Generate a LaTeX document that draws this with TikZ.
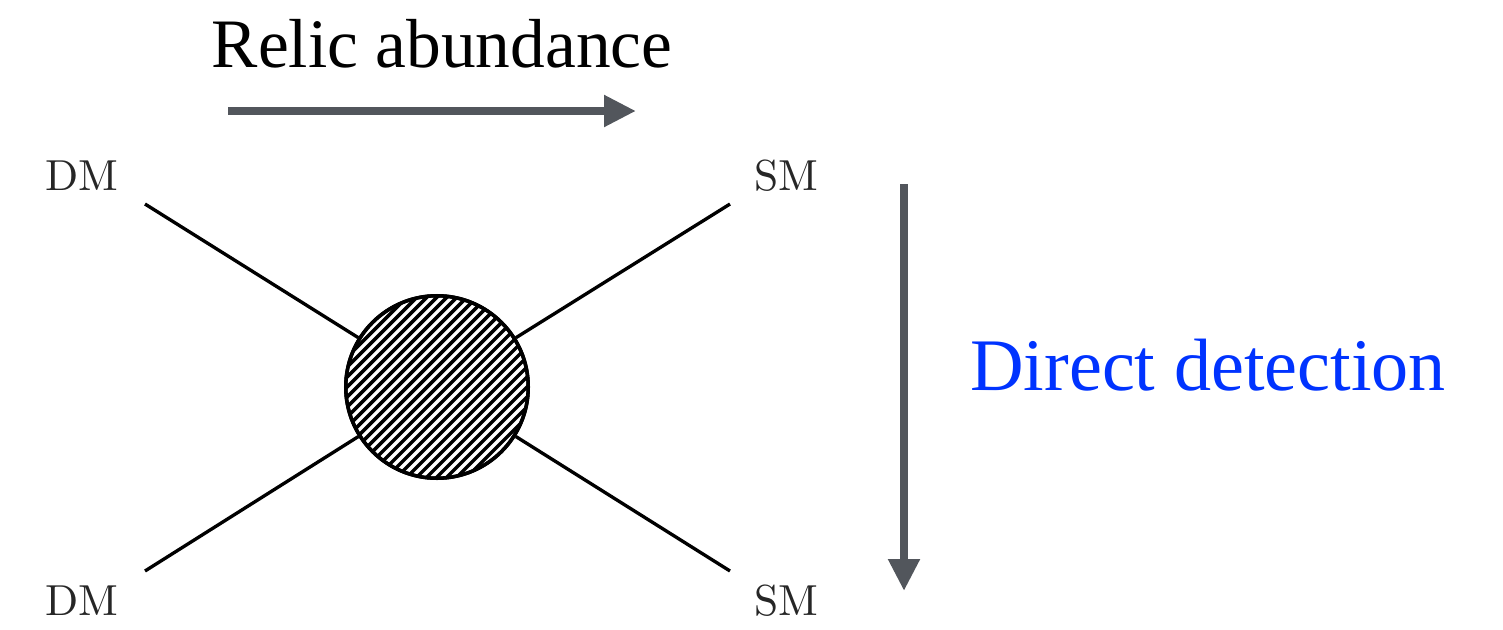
\documentclass[tikz,border=0pt]{standalone}
\usepackage{fontspec}
\newfontfamily\timesfont{Liberation Serif}
\newfontfamily\lmten{lmroman10-regular.otf}
\usetikzlibrary{arrows.meta}

\definecolor{arrowgray}{HTML}{52565C}
\definecolor{ddblue}{HTML}{0033FF}
\definecolor{labelgray}{HTML}{262626}

\begin{document}
\begin{tikzpicture}[
  x=0.02cm, y=-0.02cm,
  particle/.style={text=labelgray, font=\lmten\fontsize{24.7}{29}\selectfont, anchor=base, inner sep=0pt},
  title/.style={font=\timesfont\fontsize{39.5}{46}\selectfont, anchor=base, inner sep=0pt},
  leg/.style={line width=1.9pt},
  blob/.style={circle, draw, line width=2pt, fill=white, minimum size=3.65cm, inner sep=0pt},
  hatch/.style={line width=2pt},
  arrow/.style={-{Triangle[length=6.4mm, width=6mm]}, line width=0.16cm, draw=arrowgray}
]
\useasboundingbox (0,0) rectangle (1503,629);

% labels
\node[title] (relic) at (442,67) {Relic abundance};
\node[title, text=ddblue, font=\timesfont\fontsize{42.2}{49}\selectfont] (direct) at (1208,390) {Direct detection};
\node[particle] (dmin1) at (82,190) {DM};
\node[particle] (dmin2) at (82,615) {DM};
\node[particle] (smout1) at (786,190) {SM};
\node[particle] (smout2) at (786,615) {SM};

% leg ends
\coordinate (dmend1) at (145,204);
\coordinate (dmend2) at (145,571);
\coordinate (smend1) at (730,204);
\coordinate (smend2) at (730,571);

\node[blob] (vertex) at (437,387) {};
\begin{scope}
  \clip (vertex.center) circle (91);
  \foreach \k in {-25,...,25}
    \draw[hatch] ([xshift=\k*0.2cm-2.6cm, yshift=-2.6cm]vertex.center) -- ++(5.2cm,5.2cm);
\end{scope}
\draw[line width=2pt] (vertex.center) circle (91.25);

\draw[leg] (dmend1) -- (vertex);
\draw[leg] (dmend2) -- (vertex);
\draw[leg] (smend1) -- (vertex);
\draw[leg] (smend2) -- (vertex);

% arrows
\coordinate (relicstart) at (228,111);
\coordinate (relicend) at (636,111);
\coordinate (directstart) at (904,184);
\coordinate (directend) at (904,591);
\draw[arrow] (relicstart) -- (relicend);
\draw[arrow] (directstart) -- (directend);
\end{tikzpicture}
\end{document}
